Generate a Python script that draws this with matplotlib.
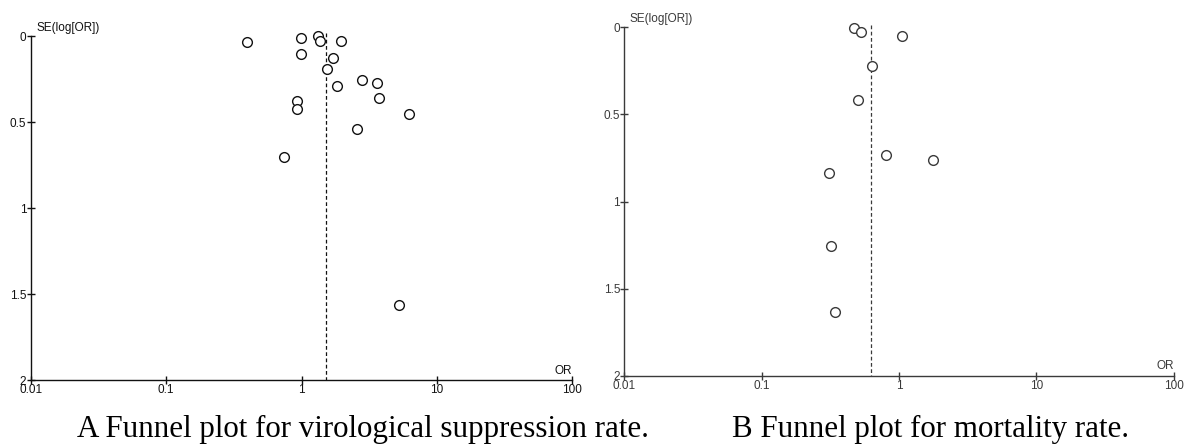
import numpy as np
import matplotlib.pyplot as plt

# Panel A: virological suppression rate
or_a = [0.397, 0.986, 1.33, 1.38, 1.94, 0.986, 1.71, 1.54, 2.80, 3.62,
        1.82, 3.72, 0.93, 0.93, 6.18, 2.58, 0.746, 5.22]
se_a = [0.037, 0.014, 0.0, 0.027, 0.031, 0.105, 0.128, 0.192, 0.254, 0.275,
        0.289, 0.362, 0.380, 0.422, 0.453, 0.541, 0.705, 1.564]
pooled_a = 1.52

# Panel B: mortality rate
or_b = [0.467, 0.533, 1.06, 0.641, 0.506, 0.80, 1.77, 0.311, 0.322, 0.341]
se_b = [0.006, 0.029, 0.050, 0.224, 0.417, 0.730, 0.761, 0.834, 1.252, 1.635]
pooled_b = 0.629

xticks = [0.01, 0.1, 1, 10, 100]
xtick_labels = ['0.01', '0.1', '1', '10', '100']
yticks = [0, 0.5, 1, 1.5, 2]
ytick_labels = ['0', '0.5', '1', '1.5', '2']

captions = ['A Funnel plot for virological suppression rate.',
            'B Funnel plot for mortality rate.']

plt.rcParams['font.family'] = ['Liberation Sans', 'DejaVu Sans']

fig = plt.figure(figsize=(11.85, 4.44), dpi=100)
ax_a = fig.add_axes([0.0258, 0.1441, 0.4573, 0.7748])
ax_b = fig.add_axes([0.5268, 0.1532, 0.4636, 0.7853])


def funnel(ax, ors, ses, pooled, col):
    ax.set_xscale('log')
    ax.plot(ors, ses, linestyle='none', marker='o', markersize=7,
            markerfacecolor='white', markeredgecolor=col, markeredgewidth=1.0,
            clip_on=False, zorder=3)
    # pooled estimate
    ax.plot([pooled, pooled], [-0.015, 2], color=col, linestyle=(0, (3, 2)),
            linewidth=0.9, zorder=2, clip_on=False)
    ax.set_xlim(0.01, 100)
    ax.set_ylim(2, 0)
    ax.set_xticks(xticks)
    ax.set_xticklabels(xtick_labels)
    ax.minorticks_off()
    ax.set_yticks(yticks)
    ax.set_yticklabels(ytick_labels)
    for s in ['top', 'right']:
        ax.spines[s].set_visible(False)
    for s in ['left', 'bottom']:
        ax.spines[s].set_color(col)
        ax.spines[s].set_linewidth(1.0)
    ax.tick_params(axis='both', direction='inout', length=6, width=1.0,
                   colors=col, labelsize=8.5)
    ax.tick_params(axis='x', pad=0)
    ax.tick_params(axis='y', pad=0)
    ax.text(0.0110, -0.012, 'SE(log[OR])', fontsize=8.5, color=col,
            ha='left', va='bottom')
    ax.text(1.0, 0.01, 'OR', fontsize=8.5, color=col, ha='right',
            va='bottom', transform=ax.transAxes)


funnel(ax_a, or_a, se_a, pooled_a, '#111111')
funnel(ax_b, or_b, se_b, pooled_b, '#3a3a3a')

fig.text(0.3063, 0.015, captions[0], fontsize=22.3, family='Liberation Serif',
         ha='center', va='baseline')
fig.text(0.7852, 0.015, captions[1], fontsize=22.3, family='Liberation Serif',
         ha='center', va='baseline')

fig.savefig('out.png', dpi=100, facecolor='white')
